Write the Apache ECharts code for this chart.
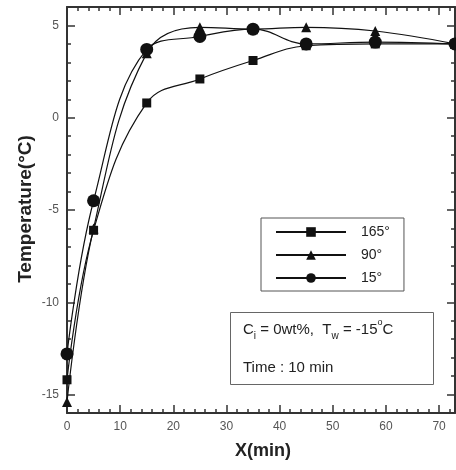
<!DOCTYPE html>
<html><head><meta charset="utf-8">
<script src="https://cdn.jsdelivr.net/npm/echarts@6/dist/echarts.min.js"></script>
<style>html,body{margin:0;padding:0;background:#fff}#c{width:456px;height:470px}</style>
</head><body><div id="c"></div>
<script>
const xValues = [0, 5, 15, 25, 35, 45, 58, 73];
const s165 = [-14.2, -6.1, 0.8, 2.1, 3.1, 3.9, 4.0, 4.0];
const s90  = [-15.4, -6.0, 3.5, 4.9, 4.8, 4.9, 4.7, 4.0];
const s15  = [-12.8, -4.5, 3.7, 4.4, 4.8, 4.0, 4.1, 4.0];
const seriesNames = ['165°', '90°', '15°'];
const xMajor = [0, 10, 20, 30, 40, 50, 60, 70];
const xMinor = [2,4,6,8,12,14,16,18,22,24,26,28,32,34,36,38,42,44,46,48,52,54,56,58,62,64,66,68,72];
const yMajor = [-15, -10, -5, 0, 5];
const yMinor = [-16,-14,-13,-12,-11,-9,-8,-7,-6,-4,-3,-2,-1,1,2,3,4,6];

const chart = echarts.init(document.getElementById('c'), null, {renderer: 'canvas'});
const axisColor = '#333';
const labelStyle = {color: '#555', fontFamily: 'Liberation Sans, Arial', fontSize: 12};

function xAx(pos, ticks, len, showLabel, showLine) {
  return {type: 'value', position: pos, min: 0, max: 73, gridIndex: 0,
    axisLine: {show: showLine, onZero: false, lineStyle: {color: axisColor, width: 2}},
    axisTick: {show: true, inside: true, length: len, customValues: ticks, lineStyle: {color: axisColor, width: 1.5}},
    axisLabel: showLabel ? Object.assign({customValues: xMajor, margin: 8}, labelStyle) : {show: false},
    splitLine: {show: false}};
}
function yAx(pos, ticks, len, showLabel, showLine) {
  return {type: 'value', position: pos, min: -16, max: 6, gridIndex: 0,
    axisLine: {show: showLine, onZero: false, lineStyle: {color: axisColor, width: 2}},
    axisTick: {show: true, inside: true, length: len, customValues: ticks, lineStyle: {color: axisColor, width: 1.5}},
    axisLabel: showLabel ? Object.assign({customValues: yMajor, margin: 8}, labelStyle) : {show: false},
    splitLine: {show: false}};
}

function mk(name, data, symbol, size) {
  return {name: name, type: 'line', xAxisIndex: 0, yAxisIndex: 0,
    data: xValues.map((x, i) => [x, data[i]]),
    smooth: 0.4, symbol: symbol, symbolSize: size,
    lineStyle: {color: '#111', width: 1.2}, itemStyle: {color: '#111'},
    emphasis: {disabled: true}};
}

chart.setOption({
  animation: false,
  grid: {left: 67, right: 1, top: 7, bottom: 57, containLabel: false},
  xAxis: [
    xAx('bottom', xMajor, 8, true, true),
    xAx('bottom', xMinor, 4, false, false),
    xAx('top', xMajor, 8, false, true),
    xAx('top', xMinor, 4, false, false)
  ],
  yAxis: [
    yAx('left', yMajor, 8, true, true),
    yAx('left', yMinor, 4, false, false),
    yAx('right', yMajor, 8, false, true),
    yAx('right', yMinor, 4, false, false)
  ],
  legend: {
    orient: 'vertical', left: 261, top: 218, width: 148,
    itemWidth: 70, itemHeight: 12, itemGap: 9,
    padding: [7, 14, 6, 14],
    borderColor: '#555', borderWidth: 1, backgroundColor: '#fff',
    textStyle: {fontFamily: 'Liberation Sans, Arial', fontSize: 14, color: '#222', padding: [0, 0, 0, 10]},
    data: seriesNames
  },
  series: [
    mk(seriesNames[0], s165, 'rect', 9),
    mk(seriesNames[1], s90, 'triangle', 10),
    mk(seriesNames[2], s15, 'circle', 13)
  ],
  graphic: [
    {type: 'rect', left: 230, top: 312, shape: {width: 203, height: 72},
      style: {fill: '#fff', stroke: '#666', lineWidth: 1}, z: 10},
    {type: 'text', left: 243, top: 318, z: 11,
      style: {text: '{m|C}{s|i}{m| = 0wt%,  T}{s|w}{m| = -15}{p|o}{m|C}',
        rich: {
          m: {fontFamily: 'Liberation Sans, Arial', fontSize: 15, fill: '#222', verticalAlign: 'bottom'},
          s: {fontFamily: 'Liberation Sans, Arial', fontSize: 10, fill: '#222', padding: [0,0,-4,0], verticalAlign: 'bottom'},
          p: {fontFamily: 'Liberation Sans, Arial', fontSize: 9, fill: '#222', padding: [0,0,10,0], verticalAlign: 'bottom'}
        }}},
    {type: 'text', left: 243, top: 360, z: 11,
      style: {text: 'Time : 10 min', fontFamily: 'Liberation Sans, Arial', fontSize: 15, fill: '#222'}},
    {type: 'text', left: 235, top: 442, z: 11,
      style: {text: 'X(min)', fontFamily: 'Liberation Sans, Arial', fontSize: 18, fontWeight: 'bold', fill: '#222'}},
    {type: 'text', x: 16, y: 209, rotation: Math.PI / 2, z: 11,
      style: {text: 'Temperature(°C)', fontFamily: 'Liberation Sans, Arial', fontSize: 19, fontWeight: 'bold', fill: '#222', align: 'center', verticalAlign: 'top'}}
  ]
});
</script></body></html>
